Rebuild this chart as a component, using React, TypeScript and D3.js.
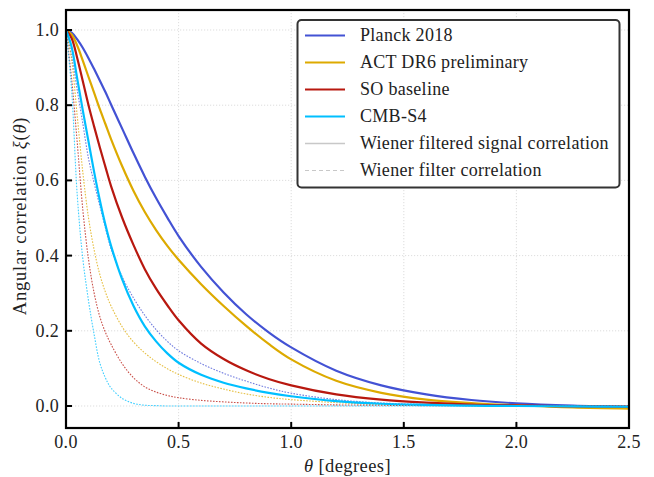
import React from "react";
import * as d3 from "d3";

const thetas = [0, 0.025, 0.05, 0.075, 0.1, 0.125, 0.15, 0.175, 0.2, 0.25, 0.3, 0.35, 0.4, 0.45, 0.5, 0.6, 0.7, 0.8, 0.9, 1.0, 1.2, 1.4, 1.6, 1.8, 2.0, 2.25, 2.5];

const planckSignal = [1, 0.993, 0.975, 0.952, 0.925, 0.896, 0.866, 0.835, 0.802, 0.737, 0.672, 0.61, 0.553, 0.501, 0.452, 0.37, 0.302, 0.244, 0.196, 0.156, 0.094, 0.055, 0.031, 0.016, 0.007, 0.001, -0.002];
const actSignal = [1, 0.988, 0.958, 0.918, 0.875, 0.833, 0.79, 0.75, 0.71, 0.637, 0.572, 0.516, 0.468, 0.426, 0.389, 0.324, 0.266, 0.213, 0.165, 0.124, 0.067, 0.035, 0.017, 0.008, 0.002, -0.004, -0.007];
const soSignal = [1, 0.978, 0.925, 0.863, 0.8, 0.743, 0.688, 0.636, 0.585, 0.5, 0.428, 0.364, 0.312, 0.268, 0.228, 0.166, 0.125, 0.095, 0.072, 0.055, 0.031, 0.017, 0.009, 0.004, 0.002, -0.001, -0.002];
const s4Signal = [1, 0.955, 0.87, 0.785, 0.703, 0.622, 0.548, 0.482, 0.426, 0.336, 0.266, 0.212, 0.172, 0.14, 0.115, 0.083, 0.062, 0.047, 0.035, 0.026, 0.013, 0.006, 0.003, 0.001, 0.0, -0.001, -0.002];

const planckFilter = [1, 0.93, 0.84, 0.75, 0.658, 0.593, 0.533, 0.474, 0.418, 0.343, 0.287, 0.241, 0.203, 0.172, 0.147, 0.113, 0.087, 0.066, 0.048, 0.034, 0.017, 0.008, 0.004, 0.002, 0.001, 0.0, 0.0];
const actFilter = [1, 0.92, 0.77, 0.62, 0.5, 0.415, 0.35, 0.303, 0.266, 0.21, 0.17, 0.141, 0.118, 0.099, 0.084, 0.061, 0.045, 0.032, 0.023, 0.017, 0.009, 0.004, 0.002, 0.001, 0.0, 0.0, 0.0];
const soFilter = [1, 0.87, 0.7, 0.52, 0.39, 0.3, 0.238, 0.196, 0.164, 0.112, 0.075, 0.051, 0.037, 0.028, 0.022, 0.015, 0.011, 0.008, 0.006, 0.005, 0.003, 0.002, 0.001, 0.001, 0.0, 0.0, 0.0];
const s4Filter = [1, 0.84, 0.56, 0.39, 0.28, 0.19, 0.115, 0.075, 0.048, 0.02, 0.007, 0.002, 0.001, 0, 0, 0, 0, 0, 0, 0, 0, 0, 0, 0, 0, 0, 0];

const experiments = ["Planck 2018", "ACT DR6 preliminary", "SO baseline", "CMB-S4"];
const colors = ["#4352d4", "#ddaa00", "#b8180f", "#00bfff"];
const signalSeries = [planckSignal, actSignal, soSignal, s4Signal];
const filterSeries = [planckFilter, actFilter, soFilter, s4Filter];

const xTicks = [0, 0.5, 1.0, 1.5, 2.0, 2.5];
const yTicks = [0, 0.2, 0.4, 0.6, 0.8, 1.0];

const W = 654, H = 477;
const L = 66, R = 629, T = 10, B = 428;
const FONT = "'Liberation Serif', 'Times New Roman', serif";

export default function App() {
  const x = d3.scaleLinear().domain([0, 2.5]).range([L, R]);
  const y = d3.scaleLinear().domain([-0.0585, 1.0532]).range([B, T]);
  const line = d3
    .line<number>()
    .x((_, i) => x(thetas[i]))
    .y((d) => y(d))
    .curve(d3.curveCatmullRom.alpha(0.5));

  const legendItems = [
    ...experiments.map((e, i) => ({ label: e, color: colors[i], dash: undefined as string | undefined, w: 2.2 })),
    { label: "Wiener filtered signal correlation", color: "#c8c8c8", dash: undefined, w: 1.3 },
    { label: "Wiener filter correlation", color: "#c8c8c8", dash: "4,3", w: 1.0 },
  ];

  return (
    <svg width={W} height={H} style={{ position: "absolute", left: 0, top: 0, background: "#fff" }} fontFamily={FONT}>
      <defs>
        <clipPath id="plot">
          <rect x={L} y={T} width={R - L} height={B - T} />
        </clipPath>
      </defs>
      {xTicks.slice(1, -1).map((t) => (
        <line key={"gx" + t} x1={x(t)} x2={x(t)} y1={T} y2={B} stroke="#d4d4d4" strokeWidth={0.8} strokeDasharray="1.2,1.8" />
      ))}
      {yTicks.map((t) => (
        <line key={"gy" + t} x1={L} x2={R} y1={y(t)} y2={y(t)} stroke="#d4d4d4" strokeWidth={0.8} strokeDasharray="1.2,1.8" />
      ))}
      <g clipPath="url(#plot)">
        {experiments.map((e, i) => (
          <g key={e}>
            <path d={line(signalSeries[i]) || ""} fill="none" stroke={colors[i]} strokeWidth={2.2} />
            <path d={line(filterSeries[i]) || ""} fill="none" stroke={colors[i]} strokeWidth={1.1} strokeDasharray="1.6,1.4" opacity={0.75} />
          </g>
        ))}
      </g>
      {xTicks.map((t) => (
        <g key={"tx" + t}>
          <line x1={x(t)} x2={x(t)} y1={B} y2={B - 6} stroke="#000" strokeWidth={2} />
          <text x={x(t)} y={448} fontSize={18} textAnchor="middle" fill="#222" letterSpacing={0.3}>
            {t.toFixed(1)}
          </text>
        </g>
      ))}
      {yTicks.map((t) => (
        <g key={"ty" + t}>
          <line x1={L} x2={L + 6} y1={y(t)} y2={y(t)} stroke="#000" strokeWidth={2} />
          <text x={59} y={y(t) + 6} fontSize={18} textAnchor="end" fill="#222" letterSpacing={0.3}>
            {t.toFixed(1)}
          </text>
        </g>
      ))}
      <rect x={L} y={T} width={R - L} height={B - T} fill="none" stroke="#000" strokeWidth={2.2} />
      <text x={(L + R) / 2} y={472} fontSize={18.5} textAnchor="middle" fill="#222" letterSpacing={0.4}>
        <tspan fontStyle="italic">θ</tspan> [degrees]
      </text>
      <text transform={`translate(26,${(T + B) / 2 - 3}) rotate(-90)`} fontSize={18.5} textAnchor="middle" fill="#222" letterSpacing={0.8}>
        Angular correlation <tspan fontStyle="italic">ξ</tspan>(<tspan fontStyle="italic">θ</tspan>)
      </text>
      <rect x={297.5} y={20} width={322} height={167.5} rx={4} fill="#fff" stroke="#333" strokeWidth={2} />
      {legendItems.map((it, i) => {
        const cy = 35.5 + i * 27;
        return (
          <g key={it.label}>
            <line x1={305} x2={345} y1={cy} y2={cy} stroke={it.color} strokeWidth={it.w} strokeDasharray={it.dash} />
            <text x={360} y={cy + 5.5} fontSize={18} fill="#222" letterSpacing={0.3}>
              {it.label}
            </text>
          </g>
        );
      })}
    </svg>
  );
}
